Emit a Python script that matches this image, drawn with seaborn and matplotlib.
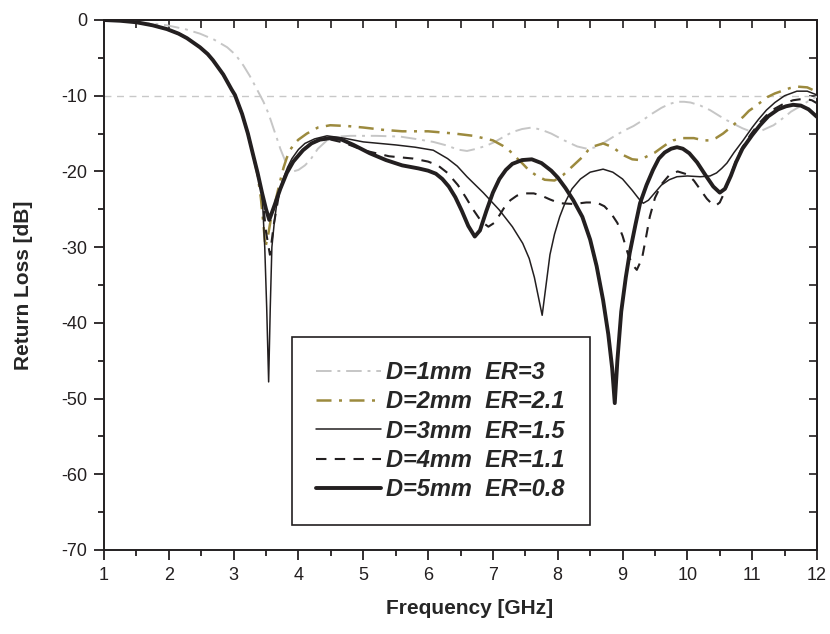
import numpy as np
import pandas as pd
import matplotlib
matplotlib.use("Agg")
import matplotlib.pyplot as plt
from matplotlib.lines import Line2D
from matplotlib.ticker import MultipleLocator
import seaborn as sns

# ---------------- data ----------------
labels = ["D=1mm  ER=3", "D=2mm  ER=2.1", "D=3mm  ER=1.5",
          "D=4mm  ER=1.1", "D=5mm  ER=0.8"]

# D=1mm ER=3 (light grey dash-dot)
f1 = [1.0, 1.25, 1.5, 1.75, 1.97, 2.25, 2.48, 2.7, 2.9, 3.03, 3.15, 3.25, 3.35,
      3.46, 3.54, 3.61, 3.67, 3.72, 3.8, 3.86, 3.92, 4.0, 4.1, 4.18, 4.3, 4.44,
      4.6, 4.8, 5.2, 5.57, 5.8, 6.08, 6.3, 6.45, 6.6, 6.75, 6.9, 7.03, 7.15, 7.3,
      7.45, 7.6, 7.75, 7.9, 8.1, 8.3, 8.45, 8.6, 8.75, 8.9, 9.05, 9.17, 9.3, 9.45,
      9.6, 9.72, 9.84, 9.95, 10.05, 10.2, 10.35, 10.5, 10.6, 10.71, 10.85, 11.0,
      11.15, 11.25, 11.33, 11.5, 11.6, 11.7, 11.85, 12.0]
rl1 = [0.0, -0.1, -0.25, -0.45, -0.7, -1.2, -1.8, -2.6, -3.6, -4.6, -6.0, -7.4,
       -9.0, -10.8, -12.4, -14.2, -15.7, -17.0, -18.7, -19.6, -20.0, -19.8, -19.2,
       -18.5, -17.0, -15.9, -15.4, -15.3, -15.3, -15.4, -15.7, -16.1, -16.6, -17.1,
       -17.3, -17.0, -16.6, -16.1, -15.5, -14.8, -14.4, -14.2, -14.5, -15.0, -15.9,
       -16.7, -17.0, -16.8, -16.0, -15.2, -14.5, -14.0, -13.3, -12.4, -11.6, -11.1,
       -10.8, -10.8, -10.9, -11.3, -11.9, -12.7, -13.2, -13.7, -14.3, -14.8, -14.6,
       -14.2, -13.9, -12.8, -12.1, -11.6, -10.8, -10.1]

# D=2mm ER=2.1 (gold dash-dot)
f2 = [1.0, 1.25, 1.5, 1.75, 1.97, 2.15, 2.28, 2.48, 2.6, 2.68, 2.84, 2.97, 3.02,
      3.13, 3.22, 3.3, 3.37, 3.42, 3.46, 3.49, 3.53, 3.58, 3.62, 3.67, 3.72, 3.77,
      3.82, 3.87, 3.93, 4.0, 4.13, 4.3, 4.49, 4.75, 5.0, 5.3, 5.6, 6.0, 6.41, 6.7,
      7.0, 7.15, 7.25, 7.34, 7.45, 7.55, 7.68, 7.8, 7.95, 8.08, 8.18, 8.28, 8.38,
      8.47, 8.55, 8.7, 8.85, 9.0, 9.15, 9.27, 9.4, 9.5, 9.58, 9.68, 9.78, 9.92,
      10.1, 10.25, 10.35, 10.44, 10.55, 10.65, 10.76, 10.86, 10.95, 11.05, 11.14,
      11.23, 11.35, 11.45, 11.58, 11.7, 11.85, 12.0]
rl2 = [0.0, -0.1, -0.3, -0.7, -1.2, -1.8, -2.4, -3.6, -4.5, -5.3, -7.2, -9.2, -9.9,
       -12.4, -15.0, -17.8, -20.5, -23.5, -27.0, -30.0, -28.5, -26.0, -24.8, -23.0,
       -21.2, -19.5, -18.2, -17.2, -16.4, -15.8, -15.0, -14.2, -13.9, -14.0, -14.2,
       -14.5, -14.7, -14.7, -15.0, -15.3, -15.9, -16.6, -17.2, -18.0, -18.9, -19.8,
       -20.6, -21.1, -21.2, -20.5, -19.7, -18.9, -18.1, -17.2, -16.7, -16.3, -16.8,
       -17.8, -18.4, -18.5, -17.9, -17.5, -17.0, -16.4, -15.9, -15.6, -15.6, -15.9,
       -15.9, -15.6, -15.0, -14.3, -13.5, -12.8, -12.0, -11.4, -10.8, -10.2, -9.7,
       -9.4, -9.0, -8.8, -8.9, -9.5]

# D=3mm ER=1.5 (thin solid)
f3 = [1.0, 1.25, 1.5, 1.75, 1.97, 2.15, 2.28, 2.48, 2.6, 2.68, 2.84, 2.97, 3.02,
      3.13, 3.22, 3.3, 3.37, 3.44, 3.48, 3.51, 3.54, 3.565, 3.59, 3.63, 3.67, 3.75,
      3.83, 3.9, 4.0, 4.1, 4.25, 4.44, 4.7, 5.0, 5.5, 5.8, 6.08, 6.3, 6.45, 6.6,
      6.85, 7.1, 7.3, 7.46, 7.56, 7.64, 7.7, 7.76, 7.82, 7.88, 7.95, 8.03, 8.12,
      8.22, 8.35, 8.5, 8.7, 8.85, 9.0, 9.15, 9.25, 9.32, 9.4, 9.5, 9.6, 9.72, 9.84,
      10.0, 10.2, 10.35, 10.45, 10.53, 10.61, 10.72, 10.86, 11.0, 11.1, 11.22,
      11.35, 11.5, 11.69, 11.85, 12.0]
rl3 = [0.0, -0.1, -0.3, -0.7, -1.2, -1.8, -2.4, -3.6, -4.5, -5.3, -7.2, -9.2, -9.9,
       -12.4, -15.0, -17.8, -20.2, -23.0, -30.0, -38.0, -47.8, -38.0, -30.0, -26.5,
       -24.0, -21.3, -19.5, -18.3, -17.1, -16.3, -15.7, -15.3, -15.6, -16.1, -16.5,
       -16.8, -17.2, -18.3, -19.3, -20.7, -22.8, -25.1, -27.3, -29.5, -31.5, -34.0,
       -36.5, -39.0, -35.0, -31.0, -28.3, -26.0, -24.0, -22.3, -21.0, -20.1, -19.7,
       -20.1, -21.0, -22.5, -23.6, -24.2, -23.8, -22.8, -21.8, -21.1, -20.7, -20.6,
       -20.7, -20.6, -20.2, -19.6, -18.9, -17.5, -15.9, -14.2, -13.1, -11.9, -10.9,
       -10.0, -9.4, -9.4, -9.9]

# D=4mm ER=1.1 (dashed)
f4 = [1.0, 1.25, 1.5, 1.75, 1.97, 2.15, 2.28, 2.48, 2.6, 2.68, 2.84, 2.97, 3.02,
      3.13, 3.22, 3.3, 3.37, 3.44, 3.5, 3.56, 3.62, 3.7, 3.8, 3.95, 4.15, 4.4, 4.7,
      5.0, 5.4, 5.77, 6.0, 6.15, 6.3, 6.46, 6.58, 6.7, 6.82, 6.93, 7.02, 7.1, 7.18,
      7.27, 7.37, 7.5, 7.63, 7.75, 7.88, 8.03, 8.25, 8.44, 8.6, 8.72, 8.82, 8.92,
      9.0, 9.08, 9.15, 9.22, 9.3, 9.36, 9.42, 9.5, 9.6, 9.72, 9.85, 10.0, 10.1,
      10.2, 10.3, 10.38, 10.44, 10.5, 10.57, 10.65, 10.75, 10.85, 10.97, 11.1,
      11.22, 11.35, 11.5, 11.63, 11.8, 11.92, 12.0]
rl4 = [0.0, -0.1, -0.3, -0.7, -1.2, -1.8, -2.4, -3.6, -4.5, -5.3, -7.2, -9.2, -9.9,
       -12.4, -15.0, -17.8, -20.2, -23.0, -28.0, -31.0, -27.0, -23.0, -20.3, -18.2,
       -16.5, -15.6, -16.2, -17.2, -18.0, -18.3, -18.7, -19.2, -20.2, -21.8, -23.4,
       -25.1, -26.6, -27.3, -26.8, -25.8, -24.7, -23.8, -23.2, -22.9, -22.9, -23.2,
       -23.7, -24.2, -24.3, -24.1, -24.1, -24.6, -25.5, -26.8, -28.5, -30.8, -32.3,
       -33.0, -31.5, -28.8, -26.0, -23.5, -21.7, -20.5, -20.0, -20.4, -21.2, -22.4,
       -23.6, -24.3, -24.5, -24.1, -22.8, -20.9, -18.6, -16.8, -15.2, -13.7, -12.6,
       -11.7, -11.0, -10.6, -10.4, -10.6, -11.0]

# D=5mm ER=0.8 (thick solid)
f5 = [1.0, 1.25, 1.5, 1.75, 1.97, 2.15, 2.28, 2.48, 2.6, 2.68, 2.84, 2.97, 3.02,
      3.13, 3.22, 3.3, 3.37, 3.44, 3.5, 3.55, 3.63, 3.72, 3.82, 3.92, 4.07, 4.2,
      4.33, 4.5, 4.64, 4.85, 5.1, 5.35, 5.6, 5.85, 6.0, 6.12, 6.22, 6.32, 6.42,
      6.52, 6.62, 6.72, 6.8, 6.9, 7.0, 7.1, 7.2, 7.3, 7.45, 7.6, 7.75, 7.9, 8.0,
      8.12, 8.24, 8.38, 8.5, 8.6, 8.7, 8.78, 8.84, 8.88, 8.92, 8.98, 9.05, 9.11,
      9.2, 9.27, 9.37, 9.47, 9.56, 9.65, 9.75, 9.84, 9.93, 10.03, 10.15, 10.28,
      10.4, 10.5, 10.58, 10.67, 10.75, 10.85, 11.0, 11.12, 11.25, 11.4, 11.52,
      11.63, 11.75, 11.87, 12.0]
rl5 = [0.0, -0.1, -0.3, -0.7, -1.2, -1.8, -2.4, -3.6, -4.5, -5.3, -7.2, -9.2, -9.9,
       -12.4, -15.0, -17.8, -20.2, -22.9, -25.0, -26.4, -24.5, -22.3, -20.2, -18.7,
       -17.2, -16.3, -15.8, -15.6, -15.7, -16.5, -17.6, -18.5, -19.2, -19.6, -19.9,
       -20.3, -21.0, -22.0, -23.4, -25.2, -27.2, -28.6, -27.8, -25.2, -22.8, -21.0,
       -19.8, -19.0, -18.5, -18.4, -18.9, -19.9, -20.8, -22.2, -23.8, -26.0, -29.0,
       -32.5, -37.0, -41.5, -46.0, -50.6, -45.0, -38.5, -34.0, -30.8, -27.0, -24.2,
       -21.8, -19.8, -18.3, -17.5, -17.0, -16.8, -17.0, -17.6, -18.8, -20.5, -22.0,
       -22.8, -22.3, -20.6, -18.8, -17.0, -15.2, -13.9, -12.7, -11.8, -11.4, -11.2,
       -11.3, -11.8, -12.8]

ref_level = -10
x_ticks = [1, 2, 3, 4, 5, 6, 7, 8, 9, 10, 11, 12]
y_ticks = [0, -10, -20, -30, -40, -50, -60, -70]

# ---------------- styling ----------------
sns.set_theme(style="ticks")
plt.rcParams["font.family"] = ["Liberation Sans", "DejaVu Sans"]
plt.rcParams["axes.unicode_minus"] = False

colors = ["#c6c6c6", "#9c8a3e", "#231f20", "#231f20", "#231f20"]
widths = [1.4, 1.8, 1.1, 1.5, 2.8]
styles = [(0, (8, 3, 1.5, 3)), (0, (6, 3, 1.2, 3)), "-", (0, (5, 4)), "-"]

fig = plt.figure(figsize=(8.3, 6.34), dpi=100)
ax = fig.add_axes([104 / 830, 84 / 634, 713 / 830, 530 / 634])

ax.axhline(ref_level, color="#c8c8c8", lw=1.0, ls=(0, (5, 4)), zorder=1)

series = [(f1, rl1), (f2, rl2), (f3, rl3), (f4, rl4), (f5, rl5)]
handles = []
for (fx, ry), lab, c, w, s in zip(series, labels, colors, widths, styles):
    df = pd.DataFrame({"Frequency": fx, "RL": ry})
    sns.lineplot(data=df, x="Frequency", y="RL", ax=ax, color=c, linewidth=w,
                 linestyle=s, sort=False, estimator=None, zorder=3)
    handles.append(Line2D([0], [0], color=c, lw=w, ls=s, label=lab))

ax.set_xlim(1, 12)
ax.set_ylim(-70, 0)
ax.set_xticks(x_ticks)
ax.set_yticks(y_ticks)
ax.xaxis.set_minor_locator(MultipleLocator(0.5))
ax.yaxis.set_minor_locator(MultipleLocator(5))
ax.tick_params(which="major", direction="out", length=7, width=1.3,
               labelsize=13, pad=5, colors="#231f20")
ax.tick_params(which="minor", direction="out", length=4, width=1.3,
               colors="#231f20")
for sp in ax.spines.values():
    sp.set_linewidth(1.4)
    sp.set_color("#231f20")

top = ax.secondary_xaxis("top")
top.set_xticks(x_ticks)
top.xaxis.set_minor_locator(MultipleLocator(0.5))
top.tick_params(which="both", direction="in", length=6, width=1.2,
                labeltop=False, colors="#231f20")
right = ax.secondary_yaxis("right")
right.set_yticks(y_ticks)
right.yaxis.set_minor_locator(MultipleLocator(5))
right.tick_params(which="both", direction="in", length=6, width=1.2,
                  labelright=False, colors="#231f20")

ax.set_xlabel("Frequency [GHz]", fontsize=15, fontweight="bold")
ax.set_ylabel("Return Loss [dB]", fontsize=15, fontweight="bold")
ax.xaxis.set_label_coords(0.513, -0.092)
ax.yaxis.set_label_coords(-0.1, 0.5)

leg = ax.legend(handles=handles, loc="lower left",
                bbox_to_anchor=(0.264, 0.047, 0.418, 0.355), mode="expand",
                frameon=True, fancybox=False, framealpha=1, edgecolor="#231f20",
                prop={"size": 17, "weight": "bold", "style": "italic"},
                handlelength=2.75, handletextpad=0.22, labelspacing=0.27,
                borderpad=1.0, borderaxespad=0)
leg.get_frame().set_linewidth(1.2)

fig.savefig("out.png", dpi=100)
